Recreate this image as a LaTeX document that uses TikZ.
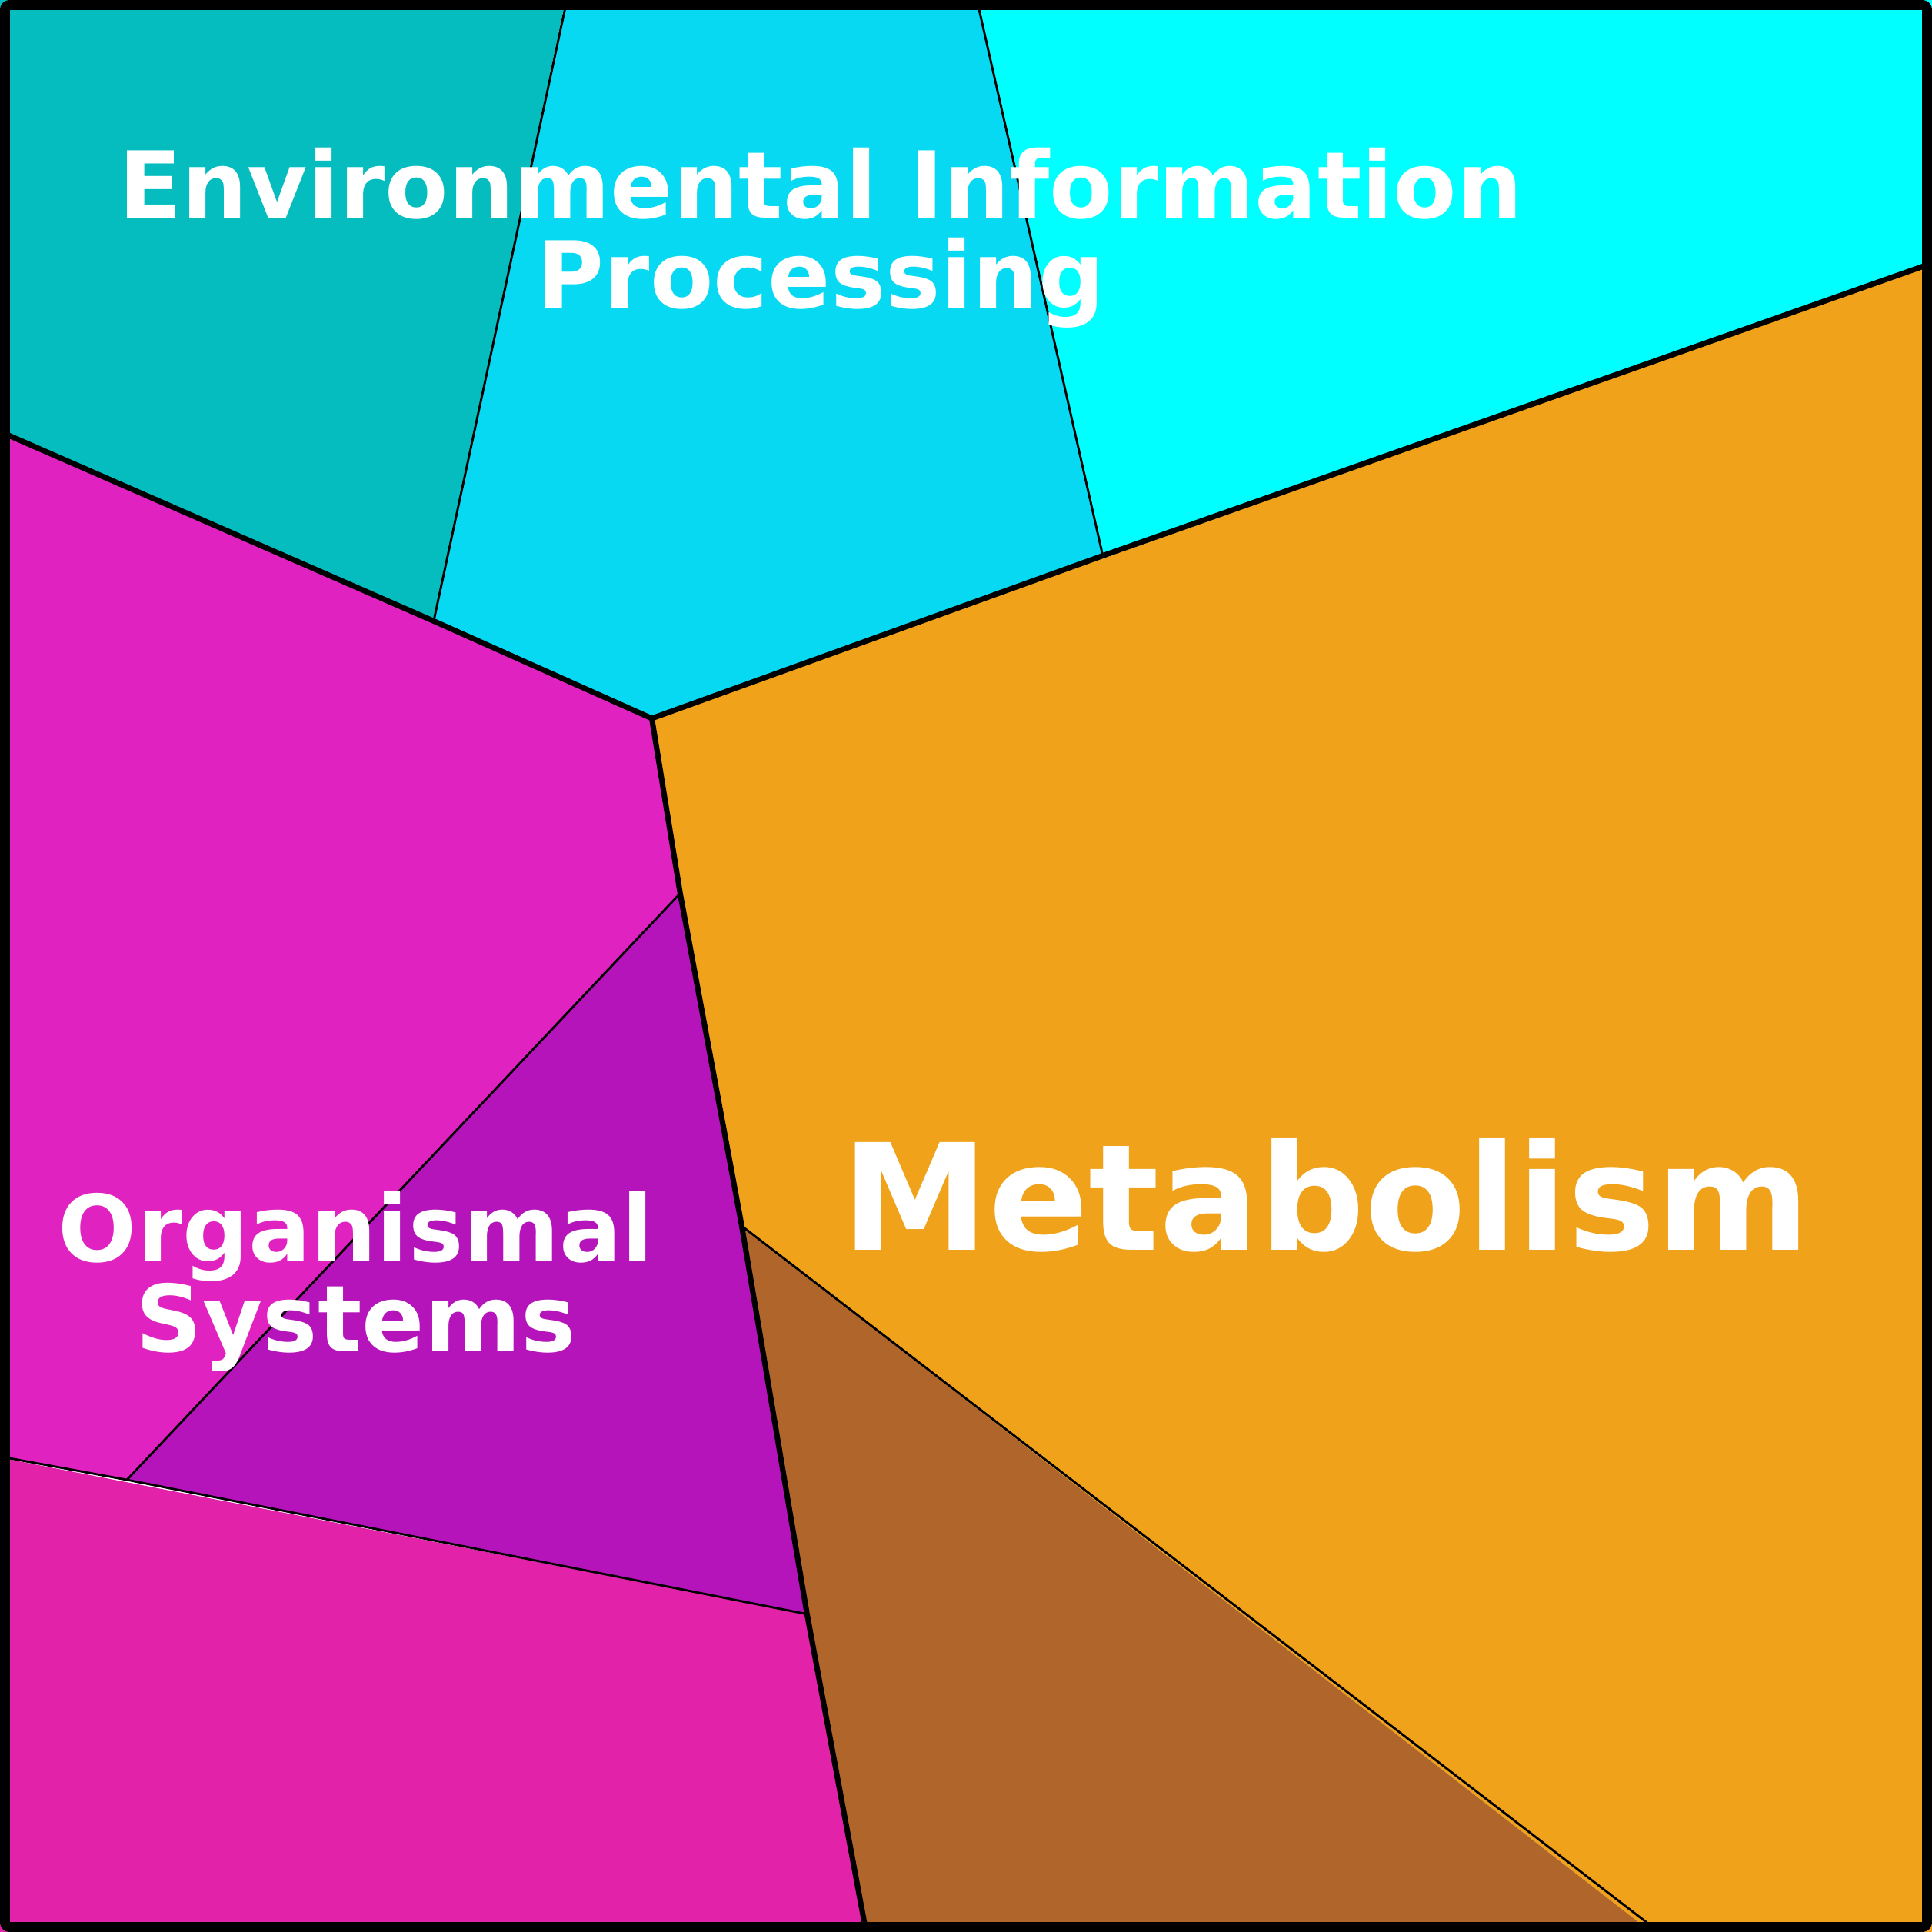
\documentclass[tikz,border=0pt]{standalone}
\usepackage{fontspec}
\setmainfont{DejaVu Sans}
\begin{document}
\begin{tikzpicture}[x=0.5pt,y=-0.5pt,
  thick line/.style={line width=2.2pt,line join=round},
  thin line/.style={line width=0.9pt},
  lbl/.style={text=white,font=\bfseries,align=center,inner sep=0pt}]
\useasboundingbox (0,0) rectangle (1568,1568);
\fill[fill={rgb,255:red,5;green,189;blue,191}] (0,0)--(459,0)--(352,504)--(0,352)--cycle;
\fill[fill={rgb,255:red,8;green,217;blue,243}] (459,0)--(794,0)--(895,451)--(529,583)--(352,504)--cycle;
\fill[fill={rgb,255:red,0;green,255;blue,255}] (794,0)--(1568,0)--(1568,215)--(895,451)--cycle;
\fill[fill={rgb,255:red,239;green,162;blue,26}] (529,583)--(1568,215)--(1568,1568)--(1340,1568)--(602,995)--cycle;
\fill[fill={rgb,255:red,176;green,101;blue,42}] (602,995)--(1340,1568)--(702,1568)--cycle;
\fill[fill={rgb,255:red,224;green,34;blue,192}] (0,352)--(529,583)--(552,725)--(103,1201)--(0,1183)--cycle;
\fill[fill={rgb,255:red,180;green,20;blue,186}] (552,725)--(602,995)--(655,1310)--(103,1201)--cycle;
\fill[fill={rgb,255:red,227;green,34;blue,170}] (0,1183)--(655,1310)--(702,1568)--(0,1568)--cycle;
% thin lines
\draw[thin line] (459,5)--(352,504);
\draw[thin line] (794,5)--(895,451);
\draw[thin line] (552,725)--(103,1201);
\draw[thin line] (5,1183)--(103,1201)--(655,1310);
\draw[thin line] (602,995)--(1340,1563);
% thick lines
\draw[thick line] (4,352)--(352,504)--(529,583)--(895,451)--(1564,215);
\draw[thick line] (529,583)--(552,725)--(602,995)--(655,1310)--(702,1563);
\draw[line width=4pt,rounded corners=2pt] (4,4) rectangle (1564,1564);
% labels
\node[lbl,font=\fontsize{37.5}{37.5}\bfseries] (env) at (666,193) {Environmental Information\\[-1pt]Processing};
\node[lbl,font=\fontsize{60}{60}\bfseries] (met) at (1076,970) {Metabolism};
\node[lbl,font=\fontsize{37.5}{37.5}\bfseries] (org) at (289,1040) {Organismal\\[-1pt]Systems};
\end{tikzpicture}
\end{document}
